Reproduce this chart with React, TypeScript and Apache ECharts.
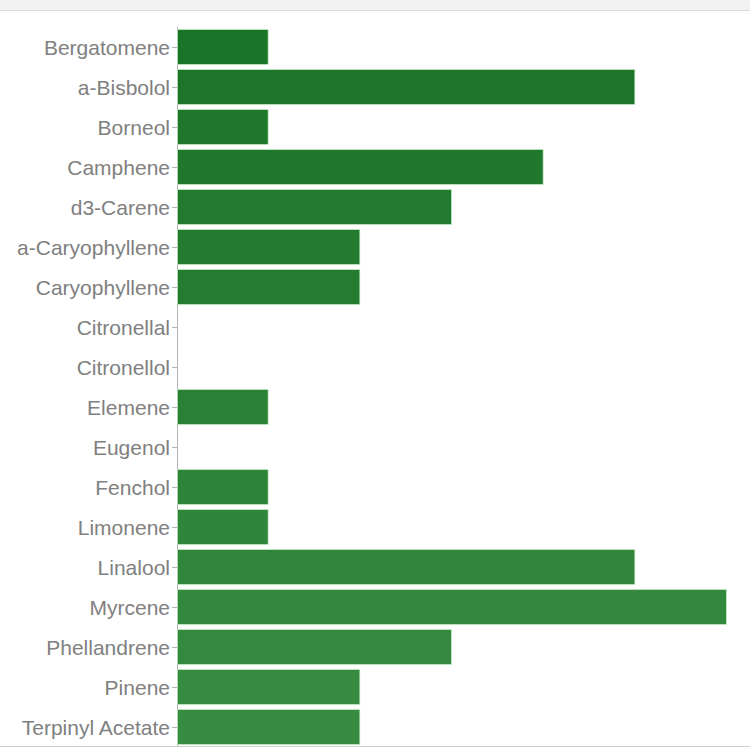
import React, { useEffect, useRef } from "react";
import * as echarts from "echarts";

const categories = [
  "Bergatomene",
  "a-Bisbolol",
  "Borneol",
  "Camphene",
  "d3-Carene",
  "a-Caryophyllene",
  "Caryophyllene",
  "Citronellal",
  "Citronellol",
  "Elemene",
  "Eugenol",
  "Fenchol",
  "Limonene",
  "Linalool",
  "Myrcene",
  "Phellandrene",
  "Pinene",
  "Terpinyl Acetate",
];
const values = [1, 5, 1, 4, 3, 2, 2, 0, 0, 1, 0, 1, 1, 5, 6, 3, 2, 2];

const topColor = [26, 116, 39];
const bottomColor = [56, 140, 66];

function colorAt(i: number, n: number) {
  const t = n > 1 ? i / (n - 1) : 0;
  const c = topColor.map((v, k) => Math.round(v + (bottomColor[k] - v) * t));
  return `rgb(${c[0]},${c[1]},${c[2]})`;
}

export default function App() {
  const ref = useRef<HTMLDivElement>(null);
  useEffect(() => {
    document.body.style.margin = "0";
    const chart = echarts.init(ref.current!, undefined, { renderer: "svg" });
    const seriesData = values.map((v, i) => ({
      value: v,
      itemStyle: {
        color: colorAt(i, categories.length),
        borderColor: "rgba(200,240,200,0.7)",
        borderWidth: v === 0 ? 0 : 1,
      },
    }));
    chart.setOption({
      animation: false,
      backgroundColor: "#ffffff",
      grid: { left: 177, right: 23, top: 27, bottom: 0, containLabel: false },
      xAxis: {
        type: "value",
        min: 0,
        max: 6,
        show: false,
      },
      yAxis: {
        type: "category",
        inverse: true,
        data: categories,
        axisLine: { show: true, lineStyle: { color: "#b5b5b5", width: 1 } },
        axisTick: { show: true, length: 5, alignWithLabel: true, lineStyle: { color: "#b5b5b5" } },
        axisLabel: {
          margin: 7,
          color: "#808080",
          fontFamily: "Liberation Sans",
          fontSize: 21,
        },
        splitLine: { show: false },
      },
      series: [
        {
          type: "bar",
          data: seriesData,
          barWidth: 36,
        },
      ],
      graphic: [
        { type: "rect", shape: { x: 0, y: 0, width: 750, height: 10 }, style: { fill: "#f2f2f2" }, z: 100 },
        { type: "line", shape: { x1: 0, y1: 10.5, x2: 750, y2: 10.5 }, style: { stroke: "#dcdcdc", lineWidth: 1 }, z: 100 },
        { type: "line", shape: { x1: 0, y1: 746.5, x2: 750, y2: 746.5 }, style: { stroke: "#cfcfcf", lineWidth: 1 }, z: 100 },
      ],
    });
    return () => chart.dispose();
  }, []);
  return (
    <div
      ref={ref}
      style={{ position: "absolute", left: 0, top: 0, width: 750, height: 747 }}
    />
  );
}
